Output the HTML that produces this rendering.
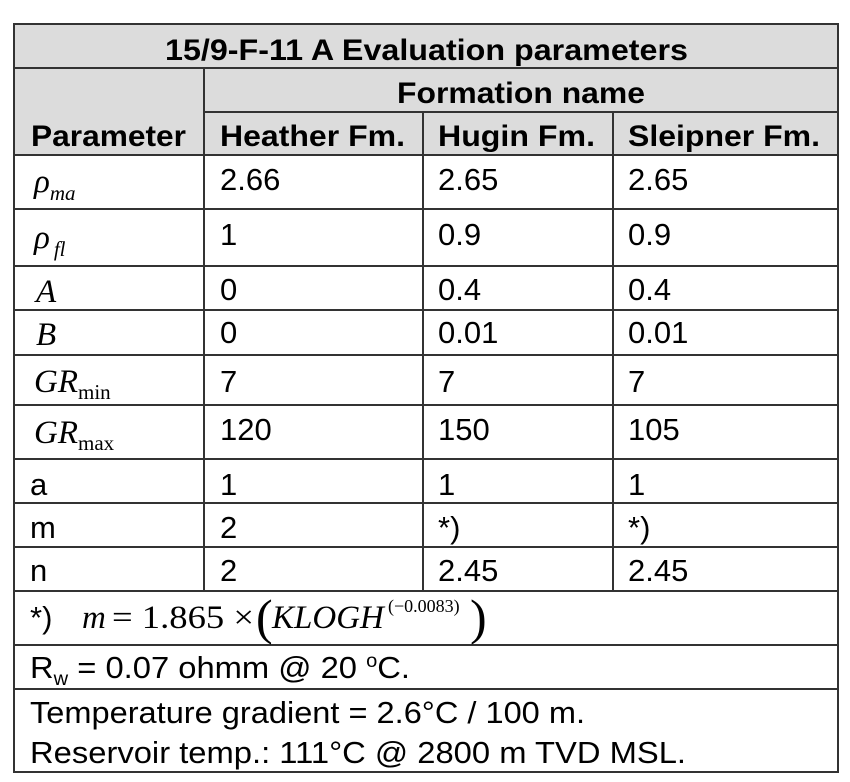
<!DOCTYPE html>
<html><head><meta charset="utf-8"><style>
html,body{margin:0;padding:0;background:#fff;width:850px;height:782px;overflow:hidden}
svg{display:block}
.s{font-family:"Liberation Sans",Arial,sans-serif;font-size:31px;fill:#000}
.b{font-family:"Liberation Sans",Arial,sans-serif;font-size:30px;font-weight:bold;fill:#000}
.t{font-family:"Liberation Serif","Times New Roman",serif;font-style:italic;font-size:33px;fill:#000}
.tu{font-family:"Liberation Serif","Times New Roman",serif;font-style:normal;font-size:21px;fill:#000}
.ti{font-family:"Liberation Serif","Times New Roman",serif;font-style:italic;font-size:21px;fill:#000}
</style></head><body>
<svg width="850" height="782" viewBox="0 0 850 782">
<g fill="#dcdcdc">
<rect x="14" y="24" width="824" height="131"/>
</g>
<g stroke="#333" stroke-width="2" fill="none">
<rect x="14" y="24" width="824" height="748"/>
<line x1="14" y1="68" x2="838" y2="68"/>
<line x1="204" y1="112" x2="838" y2="112"/>
<line x1="14" y1="155" x2="838" y2="155"/>
<line x1="14" y1="209" x2="838" y2="209"/>
<line x1="14" y1="266" x2="838" y2="266"/>
<line x1="14" y1="310" x2="838" y2="310"/>
<line x1="14" y1="355" x2="838" y2="355"/>
<line x1="14" y1="405" x2="838" y2="405"/>
<line x1="14" y1="459" x2="838" y2="459"/>
<line x1="14" y1="503" x2="838" y2="503"/>
<line x1="14" y1="547" x2="838" y2="547"/>
<line x1="14" y1="591" x2="838" y2="591"/>
<line x1="14" y1="645" x2="838" y2="645"/>
<line x1="14" y1="689" x2="838" y2="689"/>
<line x1="204" y1="68" x2="204" y2="591"/>
<line x1="423" y1="112" x2="423" y2="591"/>
<line x1="613" y1="112" x2="613" y2="591"/>
</g>
<text class="b" x="165" y="60" textLength="523" lengthAdjust="spacingAndGlyphs">15/9-F-11 A Evaluation parameters</text>
<text class="b" x="397" y="103" textLength="248" lengthAdjust="spacingAndGlyphs">Formation name</text>
<text class="b" x="31" y="146" textLength="155" lengthAdjust="spacingAndGlyphs">Parameter</text>
<text class="b" x="220" y="146" textLength="185" lengthAdjust="spacingAndGlyphs">Heather Fm.</text>
<text class="b" x="438" y="146" textLength="157" lengthAdjust="spacingAndGlyphs">Hugin Fm.</text>
<text class="b" x="628" y="146" textLength="192" lengthAdjust="spacingAndGlyphs">Sleipner Fm.</text>

<g>
<text class="t" x="34" y="192">ρ<tspan class="ti" dy="8">ma</tspan></text>
<text class="t" x="34" y="248">ρ<tspan class="ti" dy="8" dx="4">fl</tspan></text>
<text class="t" x="36" y="302">A</text>
<text class="t" x="36" y="345">B</text>
<text class="t" x="34" y="392">GR<tspan class="tu" dy="7">min</tspan></text>
<text class="t" x="34" y="443">GR<tspan class="tu" dy="7">max</tspan></text>
<text class="s" x="30" y="495">a</text>
<text class="s" x="30" y="538">m</text>
<text class="s" x="30" y="581">n</text>
</g>
<g>
<text class="s" x="220" y="190">2.66</text>
<text class="s" x="220" y="245">1</text>
<text class="s" x="220" y="300">0</text>
<text class="s" x="220" y="343">0</text>
<text class="s" x="220" y="392">7</text>
<text class="s" x="220" y="440">120</text>
<text class="s" x="220" y="495">1</text>
<text class="s" x="220" y="538">2</text>
<text class="s" x="220" y="581">2</text>
</g>
<g>
<text class="s" x="438" y="190">2.65</text>
<text class="s" x="438" y="245">0.9</text>
<text class="s" x="438" y="300">0.4</text>
<text class="s" x="438" y="343">0.01</text>
<text class="s" x="438" y="392">7</text>
<text class="s" x="438" y="440">150</text>
<text class="s" x="438" y="495">1</text>
<text class="s" x="438" y="538">*)</text>
<text class="s" x="438" y="581">2.45</text>
</g>
<g>
<text class="s" x="628" y="190">2.65</text>
<text class="s" x="628" y="245">0.9</text>
<text class="s" x="628" y="300">0.4</text>
<text class="s" x="628" y="343">0.01</text>
<text class="s" x="628" y="392">7</text>
<text class="s" x="628" y="440">105</text>
<text class="s" x="628" y="495">1</text>
<text class="s" x="628" y="538">*)</text>
<text class="s" x="628" y="581">2.45</text>
</g>
<g>
<text class="s" x="30" y="628">*)</text>
<text class="t" x="82" y="628">m</text>
<text style="font-family:'Liberation Serif',serif;font-size:33px" x="112" y="628" textLength="142" lengthAdjust="spacingAndGlyphs">= 1.865 ×</text>
<text style="font-family:'Liberation Serif',serif;font-size:50px" x="256" y="634">(</text>
<text class="t" x="272" y="628">KLOGH</text>
<text style="font-family:'Liberation Serif',serif;font-size:18px" x="388" y="612">(−0.0083)</text>
<text style="font-family:'Liberation Serif',serif;font-size:50px" x="470" y="634">)</text>
</g>
<text class="s" x="30" y="678" textLength="380" lengthAdjust="spacingAndGlyphs">R<tspan font-size="19" dy="7">w</tspan><tspan dy="-7"> = 0.07 ohmm @ 20 </tspan><tspan font-size="19" dy="-11">o</tspan><tspan dy="11">C.</tspan></text>
<text class="s" x="30" y="723" textLength="555" lengthAdjust="spacingAndGlyphs">Temperature gradient = 2.6°C / 100 m.</text>
<text class="s" x="30" y="763" textLength="656" lengthAdjust="spacingAndGlyphs">Reservoir temp.: 111°C @ 2800 m TVD MSL.</text>
</svg>
</body></html>
